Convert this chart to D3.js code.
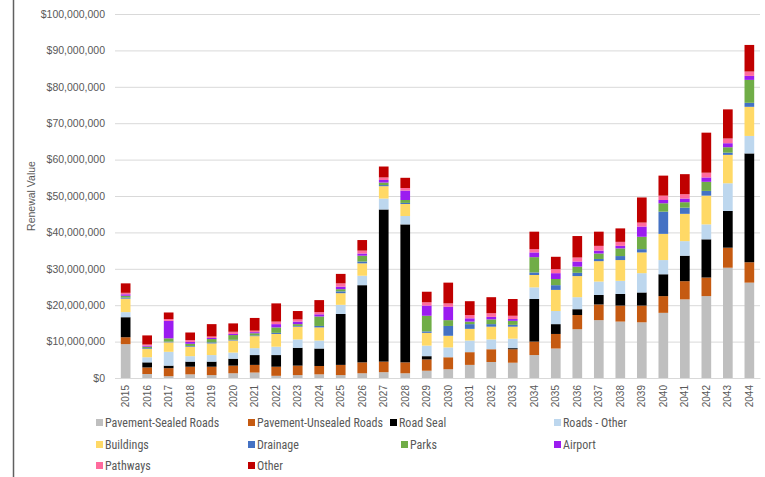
<!DOCTYPE html>
<html>
<head>
<meta charset="utf-8">
<script src="https://cdn.jsdelivr.net/npm/d3@7"></script>
<style>
  body { margin: 0; background: #fff; }
  svg { display: block; font-family: "Liberation Sans", Arial, sans-serif; }
  .grid line { stroke: #d9d9d9; }
  .y-axis text, .x-axis text { fill: #595959; }
  .legend text { fill: #595959; font-family: "Liberation Sans Narrow", "Arial Narrow", "Roboto Condensed", sans-serif; }
</style>
</head>
<body>
<div id="chart"></div>
<script>
// values in $ millions
const years = d3.range(2015, 2045).map(String);

const sealedRoads   = [9.3,1.1,0.5,1.0,0.8,1.3,1.5,0.6,0.8,1.0,0.8,1.3,1.6,1.3,2.0,2.4,3.6,4.4,4.2,6.3,8.1,13.4,15.9,15.5,15.3,17.9,21.6,22.5,30.3,26.2];
const unsealedRoads = [1.9,1.8,2.2,2.1,2.3,2.1,2.1,2.5,2.6,2.3,2.8,3.0,2.9,3.0,3.1,3.3,3.5,3.5,3.7,3.7,4.0,3.9,4.3,4.4,4.6,4.6,5.0,5.1,5.5,5.6];
const roadSeal      = [5.5,1.4,0.7,1.4,1.4,1.9,2.7,3.2,4.9,4.8,14.0,21.2,41.8,37.9,0.9,0,0,0,0.3,11.7,2.7,1.6,2.6,3.2,3.6,6.0,7.0,10.5,10.1,29.9];
const roadsOther    = [1.4,1.4,3.8,1.5,1.8,1.7,1.9,2.3,2.3,2.2,2.5,2.6,3.0,2.3,2.9,2.7,3.2,2.7,2.6,3.2,3.6,3.3,3.7,3.6,5.3,3.9,4.0,4.1,7.6,4.8];
const buildings     = [3.7,2.3,2.6,2.6,3.2,3.3,3.3,3.5,3.5,3.6,3.2,3.4,3.4,3.3,3.5,3.2,3.2,3.5,3.3,3.4,5.8,5.8,5.6,5.7,5.7,7.2,7.5,7.9,7.8,8.0];
const drainage      = [0.3,0.2,0.2,0.2,0.3,0.2,0.2,0.3,0.2,0.4,0.5,0.5,0.3,0.3,0.4,2.7,1.3,0.7,0.5,0.7,1.3,0.9,0.6,1.1,0.9,6.1,1.7,1.3,0.6,1.1];
const parks         = [0.5,0.4,0.9,0.6,0.9,1.3,0.6,1.5,0.5,2.6,0.6,1.6,0.7,0.8,4.3,1.6,0.7,1.3,1.1,4.2,1.7,1.7,1.5,2.1,3.4,2.3,1.5,2.5,1.5,6.3];
const airport       = [0.4,0.3,4.8,0.5,0.3,0.3,0.3,0.9,0.7,0.6,0.7,0.6,0.7,2.6,2.8,3.7,0.9,0.7,0.5,1.3,1.6,1.4,0.8,0.7,2.8,0.9,1.0,1.2,1.1,1.1];
const pathways      = [0.4,0.3,0.5,0.5,0.4,0.6,0.4,0.7,0.6,0.6,0.9,0.8,0.7,0.7,0.9,0.9,0.9,1.0,0.9,0.9,1.1,1.1,1.3,1.1,1.1,1.2,1.2,1.3,1.3,1.2];
const other         = [2.6,2.5,1.8,2.1,3.4,2.3,3.5,5.0,2.3,3.3,2.6,2.9,3.0,2.8,2.9,5.7,3.8,4.4,4.6,4.8,3.4,5.9,3.9,3.7,6.9,5.5,5.5,11.0,8.0,7.3];

const seriesNames = ["Pavement-Sealed Roads", "Pavement-Unsealed Roads", "Road Seal", "Roads - Other",
  "Buildings", "Drainage", "Parks", "Airport", "Pathways", "Other"];
const seriesValues = [sealedRoads, unsealedRoads, roadSeal, roadsOther, buildings, drainage, parks, airport, pathways, other];
const colors = ["#bfbfbf", "#c55a11", "#000000", "#bdd7ee", "#ffd966", "#4472c4", "#70ad47", "#9b1cf0", "#ff6b9d", "#c00000"];

const yTicks = d3.range(0, 100000001, 10000000);

const width = 765, height = 477;
const margin = {top: 14, right: 5, bottom: 99, left: 115};

const table = years.map((yr, i) => {
  const row = {year: yr};
  seriesNames.forEach((s, k) => { row[s] = seriesValues[k][i] * 1e6; });
  return row;
});

const svg = d3.select("#chart").append("svg")
  .attr("width", width).attr("height", height);

const x = d3.scaleBand()
  .domain(years)
  .range([margin.left, width - margin.right])
  .paddingInner(0.55).paddingOuter(0.27);

const y = d3.scaleLinear()
  .domain([0, 100000000])
  .range([height - margin.bottom, margin.top]);

// grid
svg.append("g").attr("class", "grid")
  .selectAll("line").data(yTicks).enter().append("line")
    .attr("x1", margin.left).attr("x2", width - margin.right)
    .attr("y1", d => y(d) + 0.5).attr("y2", d => y(d) + 0.5);

// y axis labels
const yAxis = svg.append("g").attr("class", "y-axis")
  .attr("transform", `translate(${margin.left - 7},0)`)
  .call(d3.axisLeft(y).tickValues(yTicks).tickSize(0).tickFormat(d => "$" + d3.format(",")(d)));
yAxis.select(".domain").remove();
yAxis.selectAll("text").attr("font-size", 10.5).attr("dx", 0);

svg.append("text")
  .attr("transform", `translate(35,${(y(0) + y(100000000)) / 2}) rotate(-90)`)
  .attr("text-anchor", "middle")
  .attr("font-size", 10.5).attr("fill", "#595959")
  .text("Renewal Value");

// stacked bars
const stacked = d3.stack().keys(seriesNames)(table);

svg.append("g").selectAll("g").data(stacked).enter().append("g")
    .attr("fill", (d, i) => colors[i])
  .selectAll("rect").data(d => d).enter().append("rect")
    .attr("x", d => x(d.data.year))
    .attr("width", x.bandwidth())
    .attr("y", d => y(d[1]))
    .attr("height", d => Math.max(0, y(d[0]) - y(d[1])));

// x axis
const xAxis = svg.append("g").attr("class", "x-axis")
  .attr("transform", `translate(0,${y(0)})`)
  .call(d3.axisBottom(x).tickSize(0));
xAxis.select(".domain").attr("stroke", "#d9d9d9");
xAxis.selectAll("text")
  .attr("font-size", 10)
  .attr("transform", "rotate(-90)")
  .attr("text-anchor", "end")
  .attr("x", -7).attr("y", 0).attr("dy", "0.35em");

// legend
const legendPos = [
  [96, 423], [248, 423], [390, 423], [554, 423],
  [96, 445], [248, 445], [401, 445], [554, 445],
  [96, 466], [248, 466]
];
const legend = svg.append("g").attr("class", "legend")
  .selectAll("g").data(seriesNames).enter().append("g")
    .attr("transform", (d, i) => `translate(${legendPos[i][0]},${legendPos[i][1]})`);
legend.append("rect")
  .attr("x", 0).attr("y", -4).attr("width", 7).attr("height", 7)
  .attr("fill", (d, i) => colors[i]);
legend.append("text")
  .attr("x", 9).attr("y", 0).attr("dy", "0.35em")
  .attr("font-size", 12)
  .text(d => d);

// left frame line
svg.append("line")
  .attr("x1", 13.5).attr("x2", 13.5).attr("y1", 0).attr("y2", height)
  .attr("stroke", "#606060").attr("stroke-width", 1.5);
</script>
</body>
</html>
